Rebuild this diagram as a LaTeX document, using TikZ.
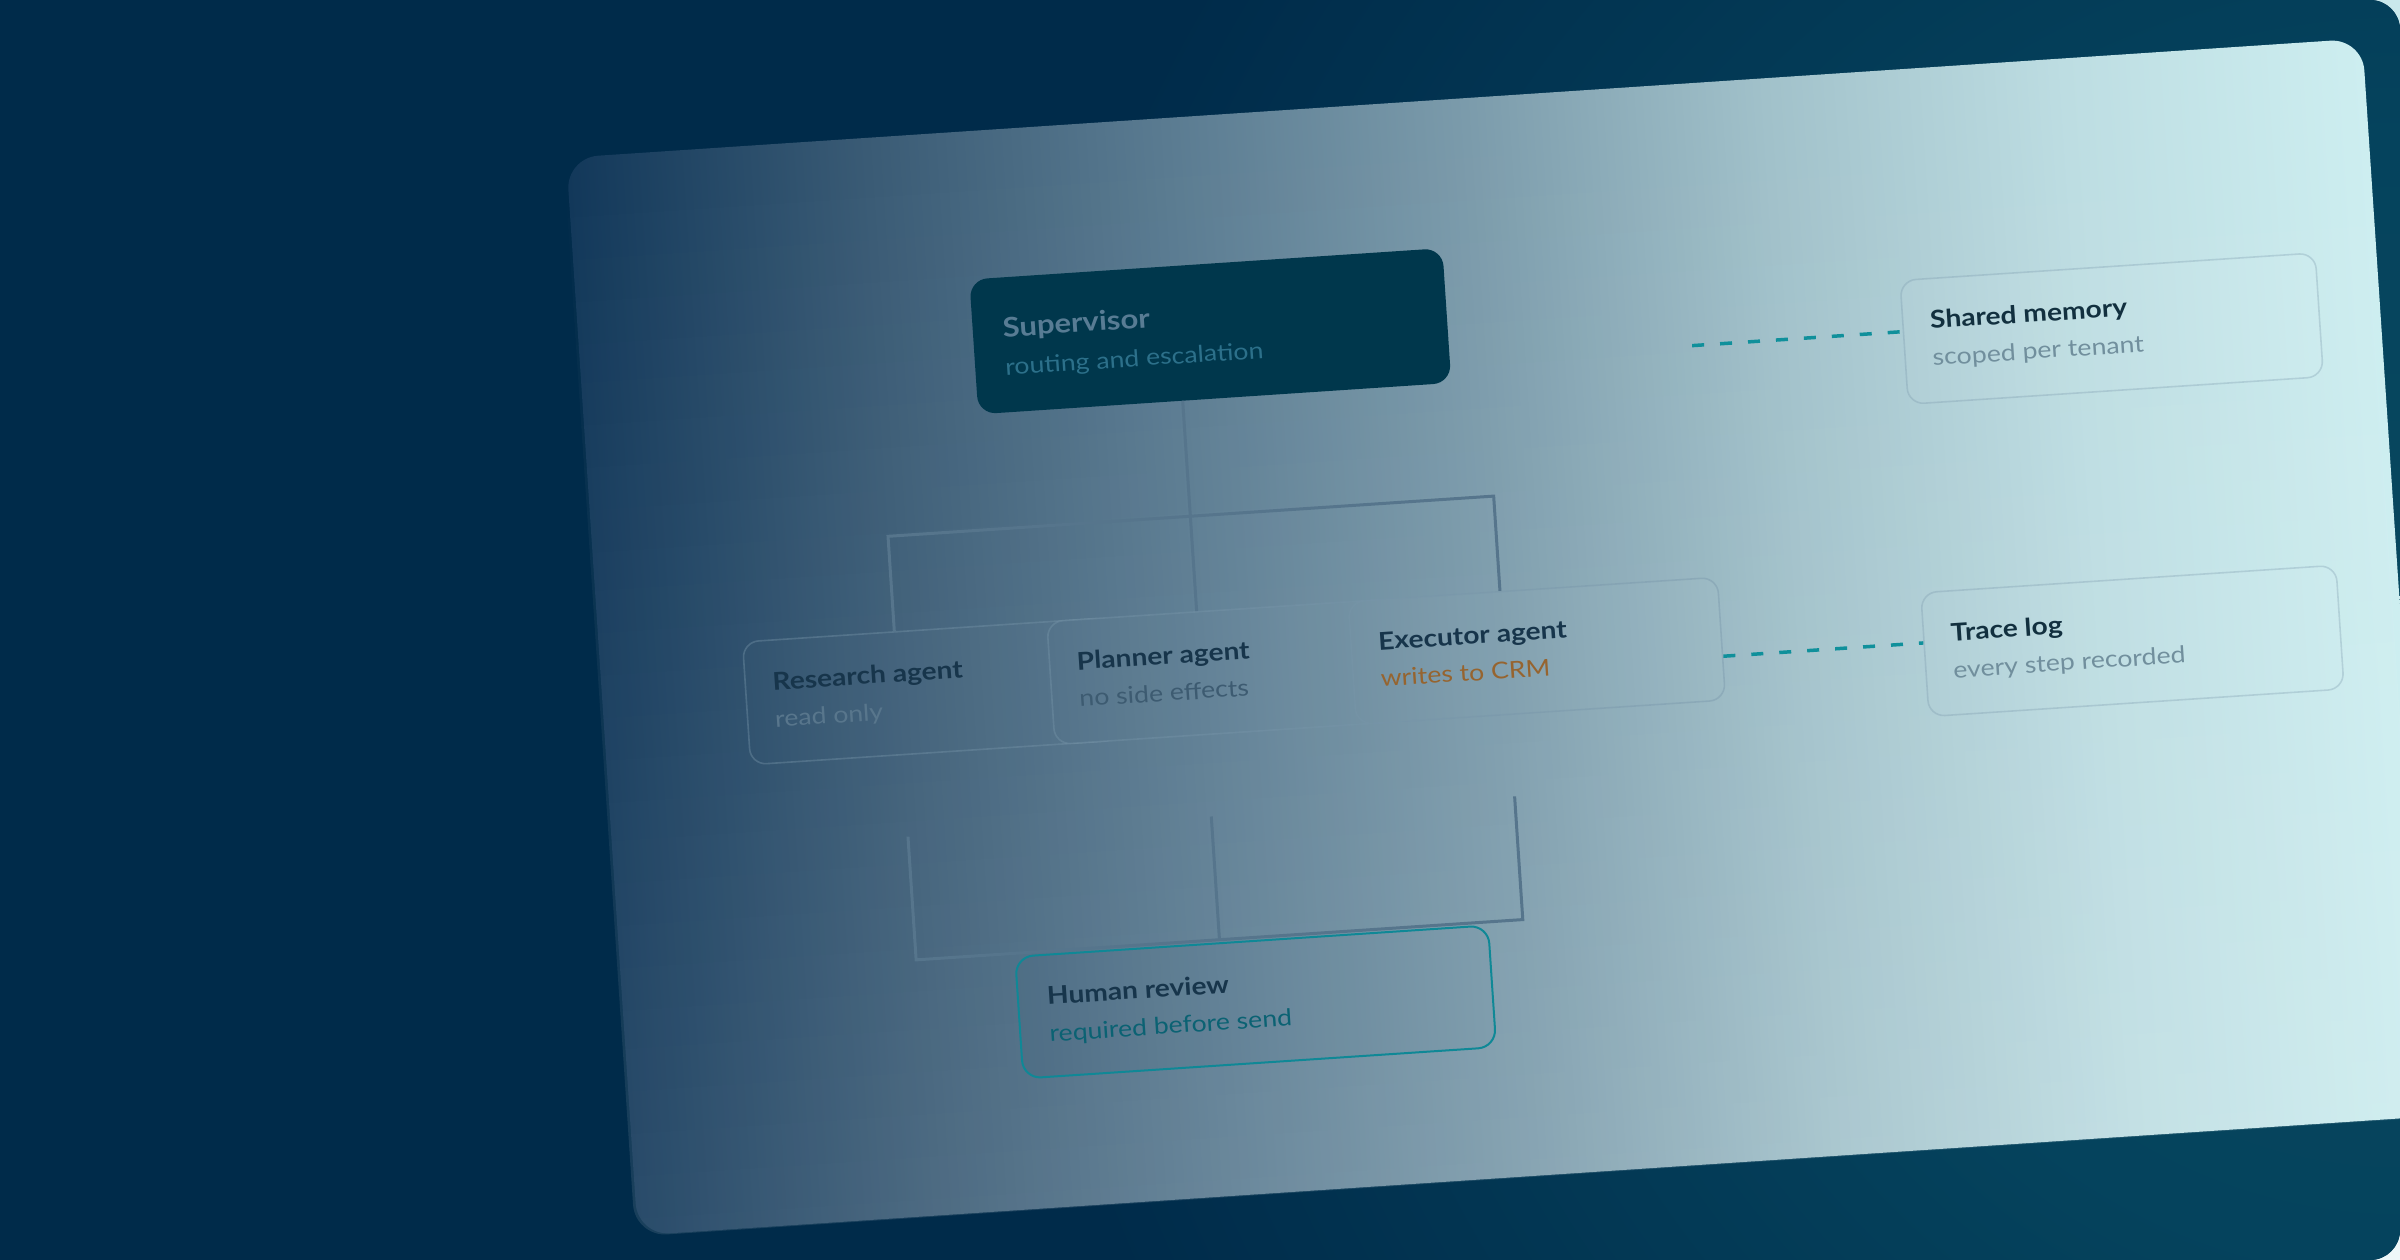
\documentclass[tikz,border=0pt]{standalone}
\usepackage{fontspec}
\setmainfont{Lato}[FakeStretch=1.15]
\usetikzlibrary{calc,fadings}
\definecolor{navy}{HTML}{002B4A}
\definecolor{glowA}{HTML}{08495F}
\definecolor{glowB}{HTML}{05435D}
\definecolor{cA}{HTML}{12385A}
\definecolor{cB}{HTML}{3A5B75}
\definecolor{cC}{HTML}{5A7B91}
\definecolor{cD}{HTML}{7B9BAB}
\definecolor{cE}{HTML}{A1C1CA}
\definecolor{cF}{HTML}{BDDDE2}
\definecolor{cG}{HTML}{CDEEF0}
\definecolor{supfill}{HTML}{00374C}
\definecolor{supttl}{HTML}{587C94}
\definecolor{supsub}{HTML}{2C708A}
\definecolor{treec}{HTML}{56758C}
\definecolor{dashc}{HTML}{10909B}
\definecolor{boxline}{HTML}{7896AA}
\definecolor{humline}{HTML}{0F8896}
\definecolor{ttldark}{HTML}{17354B}
\definecolor{ttlside}{HTML}{12303F}
\definecolor{subres}{HTML}{58768C}
\definecolor{subpla}{HTML}{3D5B71}
\definecolor{subexe}{HTML}{96642F}
\definecolor{subside}{HTML}{718F9D}
\definecolor{subhum}{HTML}{0B6273}
\definecolor{cornTR}{HTML}{C9E8EC}
\definecolor{cornBR}{HTML}{EEF8F9}
\pgfdeclarehorizontalshading{cardshade}{100bp}{color(0bp)=(cA); color(25bp)=(cA); color(33.333bp)=(cB); color(41.667bp)=(cC); color(50bp)=(cD); color(58.333bp)=(cE); color(66.667bp)=(cF); color(75bp)=(cG); color(100bp)=(cG)}
\pgfdeclareradialshading{bgglow}{\pgfpoint{0bp}{0bp}}{color(0bp)=(glowA); color(10bp)=(glowB); color(25bp)=(navy); color(50bp)=(navy)}
\tikzset{
  boxbg/.style={path picture={\shade[shading=cardshade] (cardSW) rectangle (cardNE); \fill[white, fill opacity=0.06] (cardSW) rectangle (cardNE);}},
  agentbox/.style={boxbg, draw=boxline, draw opacity=0.4, line width=1.6pt, rounded corners=16pt, minimum width=370pt, minimum height=123pt, anchor=north west, inner sep=0pt},
  sidebox/.style={agentbox, minimum width=416pt, minimum height=124pt, draw opacity=0.3},
  supbox/.style={fill=supfill, rounded corners=18pt, minimum width=474pt, minimum height=135pt, anchor=north west, inner sep=0pt},
  humbox/.style={boxbg, draw=humline, line width=2pt, rounded corners=18pt, minimum width=474pt, minimum height=122pt, anchor=north west, inner sep=0pt},
  ttl/.style={anchor=base west, inner sep=0pt, font=\fontsize{24.5pt}{29pt}\selectfont\bfseries},
  subtxt/.style={anchor=base west, inner sep=0pt, font=\fontsize{23.2pt}{28pt}\selectfont},
  treeline/.style={draw=treec, line width=3pt},
  dashlink/.style={draw=dashc, line width=3.5pt, dash pattern=on 12pt off 16pt},
}
\begin{document}
\begin{tikzpicture}[x=1pt,y=1pt]
\useasboundingbox (0,0) rectangle (2400,1260);
% outer corners
\fill[cornTR] (2340,1200) rectangle (2400,1260);
\fill[cornBR] (2340,0) rectangle (2400,60);
\begin{scope}
  \clip[rounded corners=30pt] (-100,0) rectangle (2400,1260);
  \fill[navy] (-100,0) rectangle (2400,1260);
  \shade[shading=bgglow] (2400,560) circle (1400pt);
\end{scope}
\begin{scope}[transform canvas={shift={(1500pt,623pt)}, rotate=3.8}]
  \coordinate (cardSW) at (-900,-540);
  \coordinate (cardNE) at (900,540);
  \shade[shading=cardshade, rounded corners=32pt] (cardSW) rectangle (cardNE);
  \fill[white, fill opacity=0.1, path fading=north, rounded corners=32pt] (cardSW) rectangle (cardNE);

  % supervisor
  \node[supbox] (sup) at (-506,392) {};
  \node[ttl, text=supttl, font=\fontsize{27pt}{32pt}\selectfont\bfseries] (supT) at ($(sup.north west)+(30,-60)$) {Supervisor};
  \node[subtxt, text=supsub] (supS) at ($(sup.north west)+(30,-98)$) {routing and escalation};

  % agents
  \node[agentbox] (res) at (-757,46) {};
  \node[ttl, text=ttldark] (resT) at ($(res.north west)+(28,-51)$) {Research agent};
  \node[subtxt, text=subres] (resS) at ($(res.north west)+(28,-88)$) {read only};
  \node[agentbox] (pla) at (-452,46) {};
  \node[ttl, text=ttldark] (plaT) at ($(pla.north west)+(28,-51)$) {Planner agent};
  \node[subtxt, text=subpla] (plaS) at ($(pla.north west)+(28,-88)$) {no side effects};
  \node[agentbox] (exe) at (-150,46) {};
  \node[ttl, text=ttldark] (exeT) at ($(exe.north west)+(28,-51)$) {Executor agent};
  \node[subtxt, text=subexe] (exeS) at ($(exe.north west)+(28,-88)$) {writes to CRM};

  % side boxes
  \node[sidebox] (sm) at (422,330) {};
  \node[ttl, text=ttlside] (smT) at ($(sm.north west)+(28,-51)$) {Shared memory};
  \node[subtxt, text=subside] (smS) at ($(sm.north west)+(28,-88)$) {scoped per tenant};
  \node[sidebox] (tr) at (422,17) {};
  \node[ttl, text=ttlside] (trT) at ($(tr.north west)+(28,-51)$) {Trace log};
  \node[subtxt, text=subside] (trS) at ($(tr.north west)+(28,-88)$) {every step recorded};

  % human review
  \node[humbox] (hum) at (-506,-286) {};
  \node[ttl, text=ttldark] (humT) at ($(hum.north west)+(30,-51)$) {Human review};
  \node[subtxt, text=subhum] (humS) at ($(hum.north west)+(30,-88)$) {required before send};

  % upper tree
  \coordinate (j) at (-301,141);
  \coordinate (cL) at (-604,141);
  \coordinate (cR) at (3,141);
  \draw[treeline] (sup.south -| j) -- (j);
  \draw[treeline] (res.north -| cL) -- (cL) -- (cR) -- (exe.north -| cR);
  \draw[treeline] (j) -- (pla.north -| j);

  % lower bracket
  \coordinate (lL) at (-604,-160);
  \coordinate (lM) at (-300,-160);
  \coordinate (lR) at (4,-160);
  \coordinate (hb) at ($(hum.north)+(0,2.5)$);
  \draw[treeline] (lL) -- (lL |- hb) -- (lR |- hb) -- (lR);
  \draw[treeline] (lM) -- (lM |- hb);

  % dashed links
  \coordinate (dsm) at (211,278);
  \draw[dashlink] (dsm) -- (dsm -| sm.west);
  \coordinate (dtr) at (0,-34);
  \draw[dashlink] (exe.east |- dtr) -- (tr.west |- dtr);
\end{scope}
\end{tikzpicture}
\end{document}
